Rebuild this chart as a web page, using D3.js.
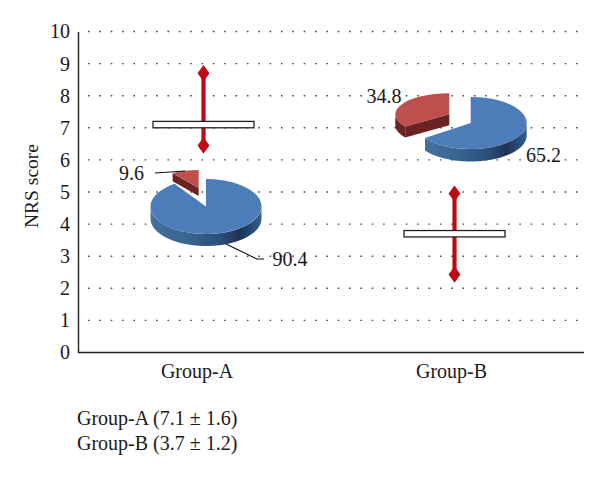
<!DOCTYPE html>
<html><head><meta charset="utf-8">
<script src="https://cdn.jsdelivr.net/npm/d3@7/dist/d3.min.js"></script>
<style>html,body{margin:0;padding:0;background:#fff}svg{display:block}text{font-family:"Liberation Serif",serif;fill:#1a1a1a}</style>
</head><body><svg id="c" width="600" height="479"></svg>
<script>
const categories = ["Group-A", "Group-B"];
const means = [7.1, 3.7];
const highs = [8.7, 4.95];
const lows = [6.45, 2.43];
const yTicks = [0,1,2,3,4,5,6,7,8,9,10];
const pieLarge = [90.4, 65.2];
const pieSmall = [9.6, 34.8];
const notes = ["Group-A (7.1 ± 1.6)", "Group-B (3.7 ± 1.2)"];

const W = 600, H = 479, x0 = 78, x1 = 580, y0 = 352.5, y1 = 31.5;
const svg = d3.select("#c");
const x = d3.scaleBand().domain(categories).range([x0, x1]);
const xLabel = d3.scalePoint().domain(categories).range([196.5, 451]);
const y = d3.scaleLinear().domain([0, 10]).range([y0, y1]);
const serif = '"Liberation Serif",serif';

// gridlines
svg.append("g").selectAll("line").data(yTicks.slice(1)).join("line")
  .attr("x1", x0 + 10).attr("x2", 586).attr("y1", d => y(d)).attr("y2", d => y(d))
  .attr("stroke", "#444").attr("stroke-width", 1.4).attr("stroke-dasharray", "1.6 9.75");

// axes
const ay = svg.append("g").attr("transform", `translate(${x0},0)`)
  .call(d3.axisLeft(y).tickValues(yTicks).tickSize(0).tickPadding(8));
ay.select(".domain").attr("stroke", "#222").attr("stroke-width", 1.4);
ay.selectAll("text").attr("font-size", 20).style("font-family", serif);
const ax = svg.append("g").attr("transform", `translate(0,${y0})`)
  .call(d3.axisBottom(xLabel).tickSize(0).tickPadding(11));
ax.select(".domain").attr("stroke", "#222").attr("stroke-width", 1.4).attr("d", `M${x0},0H584`);
ax.selectAll("text").attr("font-size", 20).style("font-family", serif);

svg.append("text").attr("transform", "translate(38,186) rotate(-90)")
  .attr("text-anchor", "middle").attr("font-size", 19.5).text("NRS score");

// gradients for pie walls
const defs = svg.append("defs");
const grad = defs.append("linearGradient").attr("id", "wall").attr("x1", 0).attr("x2", 1).attr("y1", 0).attr("y2", 0);
[[0, "#44719f"], [0.35, "#38638f"], [0.62, "#2b4f7a"], [0.8, "#1c3354"], [0.93, "#2a4f7a"], [1, "#36618f"]]
  .forEach(s => grad.append("stop").attr("offset", s[0]).attr("stop-color", s[1]));

// 3-D pies: angles come from d3.pie, the ellipse is a squashed d3.arc
const pie = d3.pie().sort(null);
const geo = [
  { big: { cx: 206, cy: 206.5, rx: 55.5, ry: 27.5, h: 12 }, small: { cx: 198.7, cy: 188, rx: 46, ry: 18, h: 8 } },
  { big: { cx: 470.7, cy: 123, rx: 56, ry: 26, h: 12.5 }, small: { cx: 449.3, cy: 114.3, rx: 54, ry: 21, h: 11 } }
];
const pt = (g, a, dy = 0) => [g.cx + g.rx * Math.sin(a), g.cy - g.ry * Math.cos(a) + dy];
const line = d3.line();
function wallPath(g, a0, a1) {
  const s = Math.max(a0, Math.PI / 2), e = Math.min(a1, Math.PI * 1.5);
  if (e <= s) return null;
  const angles = d3.range(s, e, 0.03).concat([e]);
  return line(angles.map(a => pt(g, a)).concat(angles.slice().reverse().map(a => pt(g, a, g.h)))) + "Z";
}
function face(layer, g, a0, a1, fill) {
  layer.append("path")
    .attr("d", d3.arc().innerRadius(0).outerRadius(1)({ startAngle: a0, endAngle: a1 }))
    .attr("transform", `translate(${g.cx},${g.cy}) scale(${g.rx},${g.ry})`)
    .attr("fill", fill);
}
const pies = svg.append("g");
categories.forEach((c, i) => {
  const arcs = pie([pieLarge[i], pieSmall[i]]);
  const big = arcs[0], small = arcs[1], gb = geo[i].big, gs = geo[i].small;
  const layer = pies.append("g");
  const apex = [gs.cx, gs.cy], endPt = pt(gs, small.startAngle);
  layer.append("path").attr("fill", "#6a2222")
    .attr("d", line([apex, endPt, [endPt[0], endPt[1] + gs.h], [apex[0], apex[1] + gs.h]]) + "Z");
  const rw = wallPath(gs, small.startAngle, small.endAngle);
  if (rw) layer.append("path").attr("d", rw).attr("fill", "#6a2222");
  face(layer, gs, small.startAngle, small.endAngle, "#bd4f4c");
  const bw = wallPath(gb, big.startAngle, big.endAngle);
  layer.append("path").attr("d", bw).attr("fill", "url(#wall)");
  face(layer, gb, big.startAngle, big.endAngle, "#4c7db8");
});

// leaders and pie labels
[[[155,173],[185,171]], [[226,244],[257,259],[264,259]]].forEach(p =>
  svg.append("path").attr("d", line(p)).attr("fill", "none").attr("stroke", "#111").attr("stroke-width", 1.1));
const lab = [[pieSmall[0], 119, 180], [pieLarge[0], 272.5, 266], [pieSmall[1], 366.5, 103], [pieLarge[1], 526, 162]];
svg.append("g").selectAll("text").data(lab).join("text")
  .attr("x", d => d[1]).attr("y", d => d[2]).attr("font-size", 20).text(d => d[0].toFixed(1));

// mean boxes and ranges
const cx = c => x(c) + x.bandwidth() / 2;
const sym = d3.symbol().type(d3.symbolDiamond).size(150);
const marks = svg.append("g");
categories.forEach((c, i) => {
  marks.append("line").attr("x1", cx(c)).attr("x2", cx(c)).attr("y1", y(highs[i])).attr("y2", y(lows[i]))
    .attr("stroke", "#bf0a14").attr("stroke-width", 4.2);
  [highs[i], lows[i]].forEach(v => marks.append("path").attr("d", sym())
    .attr("transform", `translate(${cx(c)},${y(v)}) scale(0.9,0.72)`).attr("fill", "#bf0a14"));
  marks.append("rect").attr("x", cx(c) - 50.5).attr("width", 101).attr("y", y(means[i]) - 3.2).attr("height", 6.4)
    .attr("fill", "#fff").attr("stroke", "#222").attr("stroke-width", 1.3);
});

svg.append("g").selectAll("text").data(notes).join("text")
  .attr("x", 77).attr("y", (d, i) => 425 + i * 25).attr("font-size", 20).text(d => d);
</script></body></html>
